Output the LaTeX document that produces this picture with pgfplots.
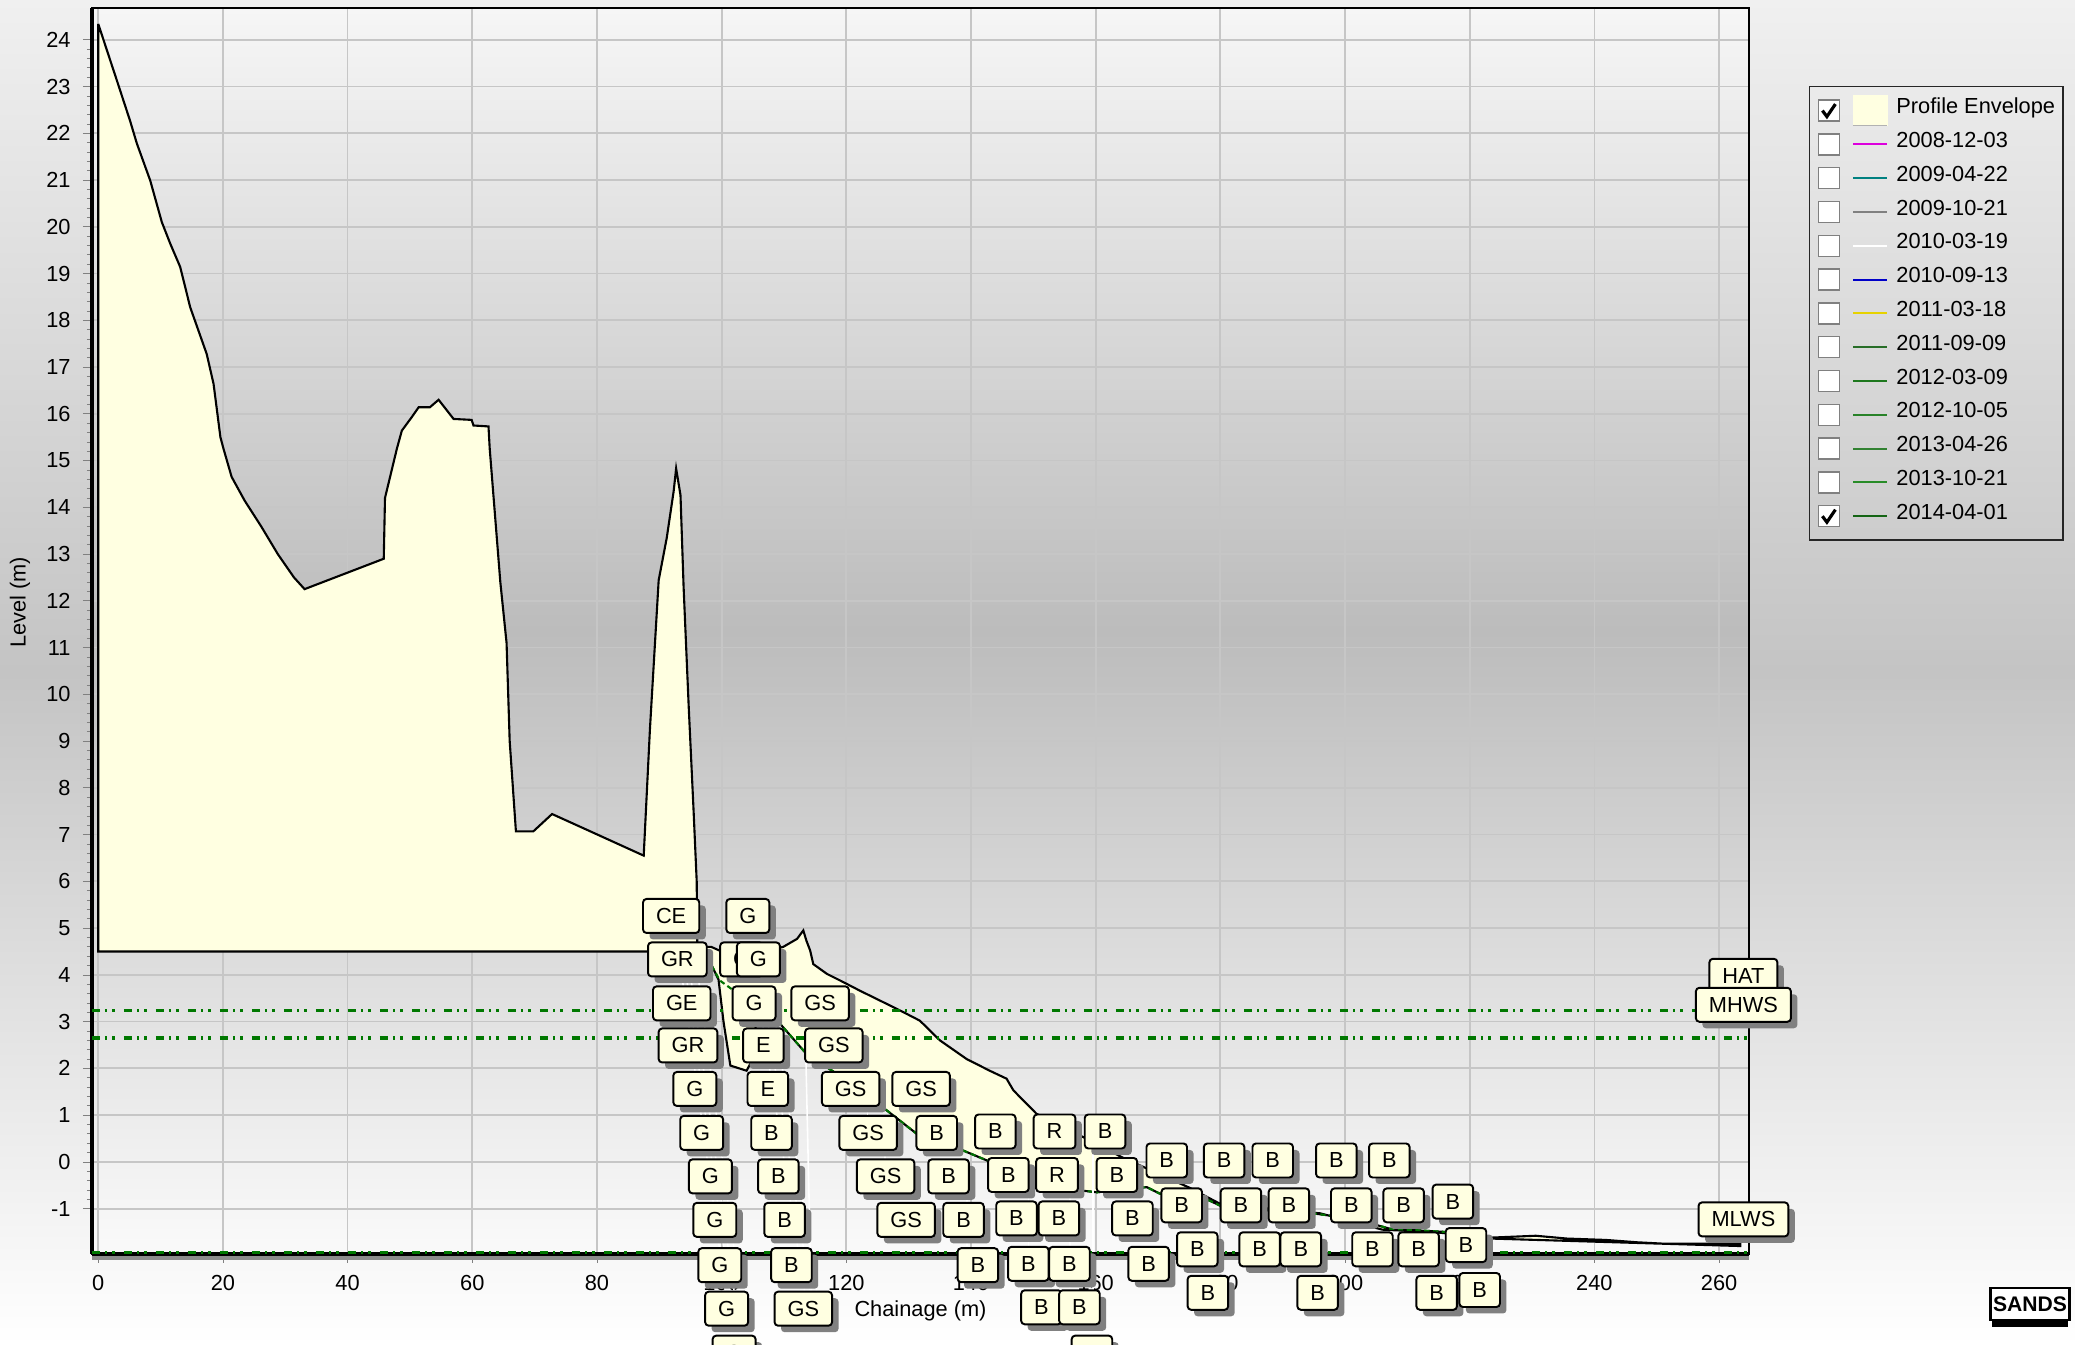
\documentclass[border=0pt]{standalone}
\usepackage{fontspec}
\setmainfont{Liberation Sans}
\usepackage{pgfplots}
\usepackage{pgfplotstable}
\pgfplotsset{compat=1.18}

\definecolor{envy}{RGB}{255,255,225}
\definecolor{tide}{RGB}{0,120,0}
\definecolor{bgtop}{RGB}{246,246,246}
\definecolor{bgmid}{RGB}{188,188,188}
\definecolor{bgbot}{RGB}{250,250,250}
\definecolor{pgtop}{RGB}{240,240,240}
\definecolor{pgmid}{RGB}{196,196,196}
\definecolor{pgbot}{RGB}{255,255,255}
\newcommand\cf{\fontsize{6.2}{7.4}\selectfont}

\tikzset{
  lbl/.style={draw=black, fill=envy, line width=0.55pt, rounded corners=1pt,
      inner xsep=0.13cm, inner ysep=0pt, minimum height=0.34cm, font=\cf,
      anchor=center, text=black},
  lblshadow/.style={lbl, draw=none, fill=black!50, text=black!50,
      xshift=0.065cm, yshift=-0.065cm},
}

\pgfplotsset{
  cbox/.style={legend image code/.code={
      \draw[solid, line width=0.4pt, draw=gray, fill=white] (-0.35cm,-0.105cm) rectangle (-0.14cm,0.105cm);
      \draw (0cm,0cm) -- (0.34cm,0cm);}},
  cboxon/.style={legend image code/.code={
      \draw[solid, line width=0.4pt, draw=gray, fill=white] (-0.35cm,-0.105cm) rectangle (-0.14cm,0.105cm);
      \draw[solid, black, line width=0.9pt] (-0.31cm,0cm) -- (-0.265cm,-0.06cm) -- (-0.18cm,0.065cm);
      \draw (0cm,0cm) -- (0.34cm,0cm);}},
  envbox/.style={legend image code/.code={
      \draw[solid, line width=0.4pt, draw=gray, fill=white] (-0.35cm,-0.105cm) rectangle (-0.14cm,0.105cm);
      \draw[solid, black, line width=0.9pt] (-0.31cm,0cm) -- (-0.265cm,-0.06cm) -- (-0.18cm,0.065cm);
      \fill[envy] (0cm,-0.15cm) rectangle (0.34cm,0.15cm);
      \draw[gray!60, line width=0.4pt] (0cm,-0.15cm) -- (0.34cm,-0.15cm);}},
  tideline/.style={tide, line width=0.9pt,
      dash pattern=on 0.08cm off 0.05cm on 0.025cm off 0.05cm on 0.025cm off 0.09cm},
  leader/.style={white, line width=0.45pt, forget plot},
}

\pgfplotstableread{
x y t
91.9 5.26 CE
104.2 5.26 G
92.9 4.33 GR
103.2 4.33 G
105.9 4.33 G
93.6 3.39 GE
105.2 3.39 G
115.8 3.39 GS
94.6 2.49 GR
106.7 2.49 E
118.0 2.49 GS
95.7 1.56 G
107.4 1.56 E
120.7 1.56 GS
132.0 1.56 GS
96.8 0.62 G
108.0 0.62 B
123.5 0.62 GS
134.5 0.62 B
143.9 0.65 B
153.4 0.65 R
161.5 0.65 B
98.2 -0.31 G
109.1 -0.31 B
126.3 -0.31 GS
136.4 -0.31 B
146.0 -0.28 B
153.8 -0.28 R
163.4 -0.28 B
171.4 0.03 B
180.6 0.03 B
188.4 0.03 B
198.6 0.03 B
207.1 0.03 B
98.9 -1.24 G
110.1 -1.24 B
129.6 -1.24 GS
138.8 -1.24 B
147.3 -1.21 B
154.1 -1.21 B
165.9 -1.21 B
173.8 -0.93 B
183.3 -0.93 B
191.0 -0.93 B
201.0 -0.93 B
209.4 -0.93 B
217.3 -0.85 B
99.7 -2.21 G
111.2 -2.21 B
141.1 -2.21 B
149.2 -2.18 B
155.8 -2.18 B
168.5 -2.18 B
176.3 -1.87 B
186.3 -1.87 B
192.9 -1.87 B
204.4 -1.87 B
211.8 -1.87 B
219.4 -1.78 B
100.8 -3.14 G
113.1 -3.14 GS
151.3 -3.11 B
157.4 -3.11 B
178.0 -2.8 B
195.6 -2.8 B
214.7 -2.8 B
221.6 -2.74 B
102.0 -4.08 G
159.4 -4.08 B
}\sediment

\pgfplotstableread{
x y t
263.9 3.98 HAT
263.9 3.36 MHWS
263.9 -1.23 MLWS
}\tidelabels

\begin{document}
\begin{tikzpicture}
  \shade[top color=pgtop, bottom color=pgbot, middle color=pgmid] (0,0) rectangle (20.75,13.45);
  % plot area background
  \shade[top color=bgtop, bottom color=bgbot, middle color=bgmid] (0.92,0.91) rectangle (17.49,13.37);

  \begin{axis}[
      at={(0.92cm,0.91cm)}, anchor=south west,
      scale only axis, width=16.57cm, height=12.46cm,
      xmin=-1, xmax=264.8, ymin=-1.97, ymax=24.68,
      xtick={0,20,...,260}, ytick={-1,0,...,24},
      minor x tick num=3, minor y tick num=4,
      tick pos=left, tick align=outside,
      major tick length=0.09cm, minor tick length=0.05cm,
      grid=major, major grid style={gray!45, line width=0.5pt},
      axis line style={black, line width=0.6pt},
      clip=false,
      /pgf/number format/assume math mode=true,
      tick label style={font=\cf},
      label style={font=\cf},
      xlabel={Chainage (m)}, ylabel={Level (m)},
      xlabel style={at={(axis description cs:0.5,-0.0457)}, anchor=center},
      ylabel style={at={(axis description cs:-0.0435,0.523)}, anchor=center},
      legend cell align=left,
      legend style={at={(axis description cs:1.0362,0.9374)}, anchor=north west,
        draw=black!85, fill=none, font=\cf, inner xsep=0.08cm, inner ysep=0.07cm,
        row sep=0pt, nodes={inner sep=0pt, text height=0.2cm, text depth=0.138cm},
        /tikz/every odd column/.append style={column sep=0.08cm}},
    ]

    % profile envelope (upper edge left to right, lower edge back)
    \addplot[draw=black, line width=0.6pt, fill=envy, forget plot] coordinates {
      (0,24.34) (3.26,23.02) (5.1,22.27) (6.2,21.78) (8.34,20.99) (10.2,20.1)
      (11.55,19.64) (13.15,19.14) (14.75,18.28) (17.4,17.28) (18.5,16.64) (19.6,15.5)
      (20.1,15.25) (21.4,14.65) (23.5,14.14) (26.1,13.6) (28.8,13.0) (31.4,12.5)
      (33.1,12.25) (45.8,12.9) (46.0,14.2) (47.9,15.25) (48.7,15.64) (50.3,15.93)
      (51.4,16.14) (53.2,16.14) (54.6,16.3) (57.0,15.89) (59.9,15.87) (60.2,15.75)
      (62.6,15.73) (62.8,15.25) (64.5,12.4) (65.5,11.1) (66.0,9.0) (67.0,7.07)
      (69.8,7.07) (72.8,7.44) (77.6,7.15) (87.5,6.55) (88.5,9.26) (89.9,12.44)
      (91.2,13.35) (92.3,14.34) (92.7,14.83) (93.4,14.26) (93.9,12.29) (94.7,9.79)
      (95.5,7.51) (96.0,6.0) (96.1,4.6) (98.3,4.6) (100,4.5) (104,4.45) (107,4.5)
      (109.9,4.6) (112.1,4.77) (113.1,4.95) (113.6,4.73) (114.2,4.52) (114.7,4.23)
      (116.9,4.02) (119,3.88) (122.2,3.66) (125.4,3.45) (128.6,3.24) (131.8,3.02)
      (135,2.6) (139.3,2.2) (143,1.95) (145.7,1.78) (146.8,1.53) (150.5,1.03)
      (158,0.53) (164.2,0.1) (170,-0.25) (175,-0.55) (180,-0.9) (196,-1.1)
      (206,-1.45) (214,-1.5) (223.4,-1.62) (230.6,-1.58) (235.6,-1.64) (241.9,-1.67)
      (246.9,-1.72) (251.2,-1.75) (263.4,-1.75)
      (263.4,-1.8) (223.4,-1.64) (216.3,-1.5) (207.2,-1.43) (205.3,-1.36)
      (197.6,-1.15) (195.4,-1.11) (180.5,-0.97) (178.3,-0.83) (175,-0.7)
      (170.3,-0.68) (168.2,-0.54) (160.2,-0.65) (157.5,-0.61) (150,-0.3)
      (143.1,0.0) (138.8,0.24) (131.3,0.6) (126.5,1.1) (120,1.75) (113.6,2.31)
      (109.4,2.95) (105.8,3.2) (104.6,2.1) (104,1.95) (101.4,2.06) (100.3,3.0)
      (99.5,3.9) (98.4,4.2) (96.1,4.5) (0,4.5)
      (0,24.34)
    };

    % 2014-04-01 survey
    \addplot[color=green!45!black, line width=0.6pt, dash pattern=on 1.5pt off 1pt, forget plot] coordinates {
      (98.4,4.2) (99.7,3.88) (109.4,2.95) (113.6,2.31) (120,1.75) (126.5,1.1)
      (131.3,0.6) (138.8,0.24) (143.1,0.0) (150,-0.3) (157.5,-0.61) (160.2,-0.65)
      (168.2,-0.54) (170.3,-0.68) (175,-0.7) (178.3,-0.83) (180.5,-0.97)
      (195.4,-1.11) (197.6,-1.15) (205.3,-1.36) (207.2,-1.43) (212.6,-1.47)
      (216.3,-1.5) (223.4,-1.62)
    };

    % leader lines of the sediment labels
    \addplot[leader] coordinates {(93.6,4.0) (102.4,-4.5)};
    \addplot[leader] coordinates {(94.3,4.0) (103.1,-4.5)};
    \addplot[leader] coordinates {(95.0,4.0) (103.8,-4.5)};
    \addplot[leader] coordinates {(96.2,4.0) (104.6,-4.5)};
    \addplot[leader] coordinates {(106.5,3.0) (114.3,-3.6)};
    \addplot[leader] coordinates {(107.4,3.0) (115.2,-3.6)};
    \addplot[leader] coordinates {(108.6,3.0) (116.2,-3.6)};
    \addplot[leader] coordinates {(113.5,2.3) (114.5,-3.6)};
    \addplot[leader] coordinates {(123.4,1.1) (123.4,0.2)};
    \addplot[leader] coordinates {(126.2,0.2) (126.2,-0.7)};
    \addplot[leader] coordinates {(139.4,-0.6) (139.4,-1.8)};
    \addplot[leader] coordinates {(149.2,-0.5) (149.2,-2.6)};
    \addplot[leader] coordinates {(155.9,-0.6) (155.9,-2.7)};
    \addplot[leader] coordinates {(159.6,0.3) (159.6,-3.6)};

    % heavy left and bottom axis lines
    \draw[black, line width=1.3pt] (rel axis cs:0,0) -- (rel axis cs:0,1);
    \draw[black!45, line width=1pt] ([yshift=-1.2pt]rel axis cs:0,0) -- ([yshift=-1.2pt]rel axis cs:1,0);
    \draw[black, line width=1.3pt] (rel axis cs:0,0) -- (rel axis cs:1,0);

    % sediment labels: shadows, then boxes
    \addplot[only marks, mark=none, nodes near coords, point meta=explicit symbolic,
      nodes near coords style={lblshadow}, forget plot] table[meta=t] {\sediment};
    \addplot[only marks, mark=none, nodes near coords, point meta=explicit symbolic,
      nodes near coords style={lbl}, forget plot] table[meta=t] {\sediment};

    % tide levels
    \addplot[tideline, forget plot] coordinates {(-1,3.24) (264.8,3.24)};
    \addplot[tideline, forget plot] coordinates {(-1,2.65) (264.8,2.65)};
    \addplot[tideline, forget plot] coordinates {(-1,-1.94) (264.8,-1.94)};

    \addplot[only marks, mark=none, nodes near coords, point meta=explicit symbolic,
      nodes near coords style={lblshadow}, forget plot] table[meta=t] {\tidelabels};
    \addplot[only marks, mark=none, nodes near coords, point meta=explicit symbolic,
      nodes near coords style={lbl}, forget plot] table[meta=t] {\tidelabels};

    % legend
    \addlegendimage{envbox}
    \addlegendentry{Profile Envelope}
    \addlegendimage{cbox, color={rgb,255:red,220;green,0;blue,220}, line width=0.6pt}
    \addlegendentry{2008-12-03}
    \addlegendimage{cbox, color={rgb,255:red,0;green,128;blue,128}, line width=0.6pt}
    \addlegendentry{2009-04-22}
    \addlegendimage{cbox, color=gray, line width=0.6pt}
    \addlegendentry{2009-10-21}
    \addlegendimage{cbox, color=white, line width=0.6pt}
    \addlegendentry{2010-03-19}
    \addlegendimage{cbox, color={rgb,255:red,0;green,0;blue,200}, line width=0.6pt}
    \addlegendentry{2010-09-13}
    \addlegendimage{cbox, color={rgb,255:red,230;green,210;blue,0}, line width=0.6pt}
    \addlegendentry{2011-03-18}
    \addlegendimage{cbox, color={rgb,255:red,40;green,110;blue,40}, line width=0.6pt}
    \addlegendentry{2011-09-09}
    \addlegendimage{cbox, color={rgb,255:red,30;green,120;blue,30}, line width=0.6pt}
    \addlegendentry{2012-03-09}
    \addlegendimage{cbox, color={rgb,255:red,40;green,130;blue,40}, line width=0.6pt}
    \addlegendentry{2012-10-05}
    \addlegendimage{cbox, color={rgb,255:red,50;green,130;blue,50}, line width=0.6pt}
    \addlegendentry{2013-04-26}
    \addlegendimage{cbox, color={rgb,255:red,40;green,140;blue,40}, line width=0.6pt}
    \addlegendentry{2013-10-21}
    \addlegendimage{cboxon, color={rgb,255:red,20;green,100;blue,20}, line width=0.6pt}
    \addlegendentry{2014-04-01}
  \end{axis}

  \fill[black] (19.92,0.18) rectangle (20.68,0.5);
  \node[draw=black, line width=0.6pt, fill=white, inner xsep=0.02cm, inner ysep=0pt,
    minimum height=0.32cm, minimum width=0.79cm, font=\bfseries\fontsize{6}{7}\selectfont]
    at (20.30,0.41) {SANDS};

  \pgfresetboundingbox
  \useasboundingbox (0,0) rectangle (20.75,13.45);
\end{tikzpicture}
\end{document}
